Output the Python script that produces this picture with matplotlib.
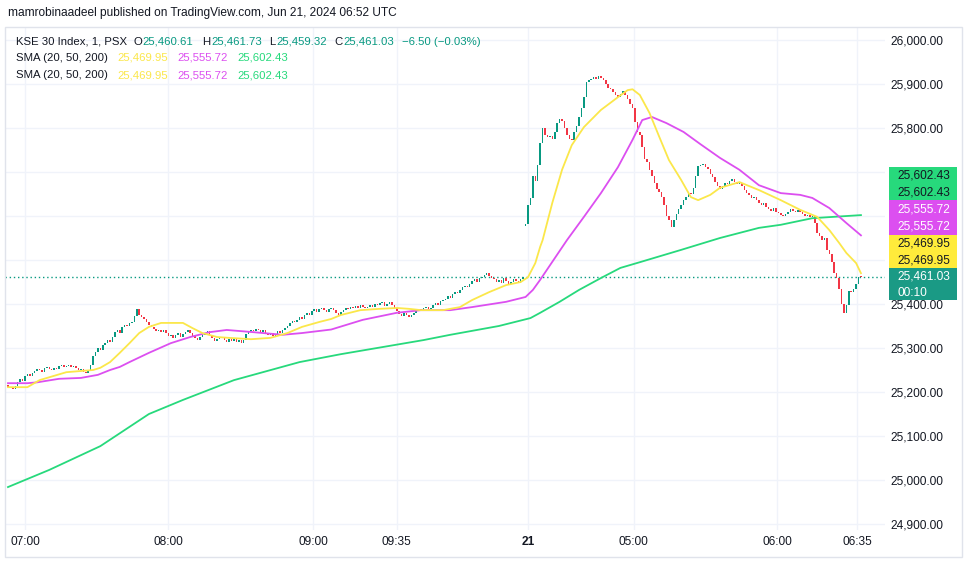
import numpy as np
import matplotlib.pyplot as plt
from matplotlib.patches import Rectangle

plt.rcParams['font.family'] = ['Liberation Sans', 'DejaVu Sans']

# 1-minute closes (Jun 20 session, then Jun 21)
jun20_open = 25216
jun20_close = [
    25212, 25208, 25206, 25214, 25222, 25230, 25226, 25236, 25240, 25236, 25244, 25248,
    25252, 25250, 25246, 25254, 25256, 25252, 25250, 25255, 25252, 25258, 25262, 25256,
    25258, 25262, 25256, 25260, 25254, 25250, 25252, 25246, 25244, 25250, 25262, 25282,
    25290, 25300, 25296, 25306, 25312, 25318, 25314, 25326, 25336, 25340, 25334, 25348,
    25352, 25350, 25356, 25360, 25372, 25388, 25376, 25370, 25366, 25358, 25352, 25348,
    25344, 25338, 25342, 25336, 25340, 25334, 25328, 25330, 25322, 25330, 25334, 25326,
    25332, 25336, 25340, 25334, 25328, 25322, 25318, 25324, 25330, 25334, 25338, 25330,
    25322, 25316, 25320, 25326, 25322, 25318, 25314, 25320, 25316, 25320, 25314, 25318,
    25312, 25318, 25332, 25338, 25342, 25338, 25344, 25340, 25336, 25340, 25334, 25330,
    25334, 25328, 25332, 25338, 25334, 25340, 25346, 25350, 25356, 25362, 25358, 25364,
    25370, 25366, 25374, 25380, 25376, 25384, 25388, 25382, 25388, 25392, 25386, 25382,
    25388, 25392, 25386, 25380, 25376, 25382, 25386, 25390, 25388, 25394, 25390, 25396,
    25392, 25398, 25394, 25390, 25394, 25398, 25394, 25400, 25398, 25402, 25404, 25396,
    25400, 25404, 25398, 25390, 25384, 25378, 25372, 25380, 25376, 25370, 25374, 25380,
    25384, 25388, 25384, 25390, 25394, 25388, 25392, 25398, 25402, 25398, 25406, 25410,
    25412, 25418, 25414, 25422, 25428, 25424, 25432, 25438, 25442, 25438, 25446, 25452,
    25456, 25450, 25458, 25462, 25466, 25470, 25464, 25460, 25456, 25450, 25454, 25448,
    25458, 25452, 25446, 25450, 25456, 25452, 25448, 25456, 25462,
]
jun21_open = 25578
jun21_close = [
    25582, 25625, 25640, 25690, 25680, 25716, 25765, 25800, 25785, 25780,
    25782, 25776, 25790, 25812, 25820, 25815, 25800, 25785, 25775, 25772,
    25790, 25805, 25825, 25845, 25870, 25905, 25910, 25912, 25916, 25912,
    25918, 25914, 25908, 25900, 25892, 25888, 25882, 25874, 25870, 25878,
    25885, 25876, 25866, 25855, 25845, 25814, 25791, 25784, 25757, 25730,
    25723, 25705, 25690, 25675, 25662, 25655, 25643, 25625, 25600, 25592,
    25575, 25590, 25605, 25616, 25626, 25636, 25644, 25652, 25650, 25664,
    25690, 25714, 25716, 25718, 25712, 25706, 25696, 25688, 25678, 25668,
    25662, 25668, 25676, 25672, 25680, 25684, 25678, 25672, 25676, 25668,
    25660, 25652, 25648, 25640, 25644, 25636, 25630, 25626, 25630, 25620,
    25616, 25612, 25618, 25610, 25606, 25602, 25600, 25604, 25608, 25615,
    25612, 25610, 25614, 25608, 25604, 25600, 25602, 25598, 25600, 25585,
    25562, 25555, 25545, 25550, 25522, 25513, 25495, 25470, 25458, 25435,
    25400, 25380, 25398, 25430, 25428, 25435, 25445, 25462, 25461.03,
]

# moving averages, sampled at bar index
sma20_idx = [0, 8, 13, 24, 35, 38, 42, 46, 50, 54, 58, 63, 68, 72, 76, 80, 86, 91, 100, 108,
             115, 121, 128, 133, 137, 145, 153, 160, 165, 170, 179, 186, 191, 198, 205, 211,
             214, 217, 219, 220, 224, 228, 232, 237, 244, 251, 255, 257, 260, 264, 268, 272,
             277, 281, 284, 289, 293, 301, 309, 318, 326, 333, 338, 342, 345, 349, 351]
sma20_val = [25211, 25211, 25227, 25245, 25250, 25255, 25268, 25289, 25311, 25334, 25348, 25357,
             25357, 25357, 25345, 25334, 25325, 25323, 25320, 25323, 25334, 25348, 25359, 25366,
             25375, 25386, 25389, 25391, 25389, 25386, 25386, 25393, 25409, 25427, 25443, 25450,
             25461, 25493, 25530, 25545, 25630, 25705, 25761, 25802, 25841, 25870, 25886, 25888,
             25875, 25834, 25780, 25727, 25682, 25643, 25636, 25648, 25664, 25677, 25659, 25636,
             25614, 25598, 25568, 25539, 25516, 25493, 25470]
sma50_idx = [0, 8, 12, 21, 30, 37, 42, 46, 50, 58, 67, 75, 83, 90, 101, 113, 121, 133, 146, 160,
             170, 182, 191, 205, 213, 216, 219, 230, 237, 244, 251, 257, 261, 265, 271, 278,
             285, 293, 301, 309, 318, 326, 331, 338, 345, 351]
sma50_val = [25220, 25220, 25222, 25230, 25232, 25239, 25250, 25257, 25268, 25289, 25311, 25325,
             25336, 25341, 25336, 25330, 25334, 25342, 25364, 25380, 25386, 25386, 25393, 25405,
             25416, 25432, 25455, 25545, 25598, 25652, 25711, 25773, 25818, 25825, 25811, 25791,
             25763, 25732, 25705, 25670, 25652, 25648, 25641, 25618, 25584, 25556]
sma200_idx = [0, 17, 38, 58, 72, 93, 120, 137, 171, 182, 202, 215, 219, 227, 235, 244, 252, 260,
              277, 293, 309, 318, 331, 351]
sma200_val = [24984, 25023, 25077, 25150, 25182, 25227, 25268, 25286, 25318, 25330, 25350, 25368,
              25380, 25405, 25432, 25459, 25482, 25495, 25523, 25550, 25573, 25580, 25595, 25602]

time_pos = [7, 66, 125.5, 160, 214, 257.5, 316.5, 349.5]
time_labels = ['07:00', '08:00', '09:00', '09:35', '21', '05:00', '06:00', '06:35']
price_ticks = list(range(24900, 26001, 100))
hidden_ticks = [25500, 25600, 25700]   # covered by the value labels on the scale

UP, DOWN = '#089981', '#f23645'
YEL, MAG, GRN = '#fbe74a', '#dc4ff0', '#27d97c'
DARK = '#131722'
W, H = 965, 564

closes = np.array(jun20_close + jun21_close, dtype=float)
opens = np.concatenate([[jun20_open], closes[:-1]])
opens[len(jun20_close)] = jun21_open
idx = np.arange(len(closes))
up = closes >= opens

fig = plt.figure(figsize=(W / 100, H / 100), dpi=100)
ax = fig.add_axes([5 / W, 1 - 530 / H, 880 / W, 503 / H])

# grid
for p in price_ticks:
    ax.axhline(p, color='#f0f3fa', lw=1, zorder=0)
for t in time_pos:
    ax.axvline(t, color='#f0f3fa', lw=1, zorder=0)

# candles (min body height ~1px)
ax.bar(idx, np.maximum(np.abs(closes - opens), 2.4), bottom=np.minimum(opens, closes),
       width=0.62, color=np.where(up, UP, DOWN), linewidth=0, zorder=2)

ax.plot(sma200_idx, sma200_val, color=GRN, lw=1.3, zorder=3)
ax.plot(sma50_idx, sma50_val, color=MAG, lw=1.3, zorder=3)
ax.plot(sma20_idx, sma20_val, color=YEL, lw=1.3, zorder=3)

ax.axhline(closes[-1], color=UP, lw=1, ls=(0, (1, 2)), zorder=1)

ax.set_xlim(-1.23, 360.9)
ax.set_ylim(24886.4, 26029.5)
for s in ax.spines.values():
    s.set_visible(False)
ax.yaxis.tick_right()
ax.set_yticks(price_ticks)
ax.set_yticklabels(['' if p in hidden_ticks else f'{p:,.2f}' for p in price_ticks])
ax.set_xticks(time_pos)
ax.set_xticklabels(time_labels)
ax.tick_params(length=0, labelsize=8.6, colors=DARK, pad=4)
ax.get_xticklabels()[4].set_fontweight('bold')


def ftext(x, y, s, color=DARK, size=8.2, **kw):
    fig.text(x / W, 1 - y / H, s, color=color, va='center', fontsize=size, **kw)


# outer frame
fig.patches.append(Rectangle((5 / W, 1 - 557 / H), 957 / W, 530 / H, transform=fig.transFigure,
                             fill=False, edgecolor='#e0e3eb', lw=1))

ftext(8, 13, 'mamrobinaadeel published on TradingView.com, Jun 21, 2024 06:52 UTC', size=8.6)

ftext(16, 42, 'KSE 30 Index, 1, PSX')
for x, s, c in [(133, 'O', DARK), (142, '25,460.61', UP), (202, 'H', DARK), (211, '25,461.73', UP),
                (269, 'L', DARK), (276, '25,459.32', UP), (334, 'C', DARK), (343, '25,461.03', UP),
                (402, '\u22126.50 (\u22120.03%)', UP)]:
    ftext(x, 42, s, c)
for y in (58, 75):
    ftext(16, y, 'SMA (20, 50, 200)')
    ftext(117, y, '25,469.95', YEL)
    ftext(177, y, '25,555.72', MAG)
    ftext(237, y, '25,602.43', GRN)

# price labels on the scale
boxes = [(167, 200, GRN, DARK, ['25,602.43', '25,602.43']),
         (200, 235, MAG, 'white', ['25,555.72', '25,555.72']),
         (235, 268, '#ffeb3b', DARK, ['25,469.95', '25,469.95']),
         (268, 300, '#1a9a85', 'white', ['25,461.03', '00:10'])]
for top, bot, fc, tc, lines in boxes:
    fig.patches.append(Rectangle((889 / W, 1 - bot / H), 68 / W, (bot - top) / H,
                                 transform=fig.transFigure, facecolor=fc, edgecolor='none', zorder=5))
    h = (bot - top) / 2
    for k, s in enumerate(lines):
        ftext(897, top + h * (k + 0.5) + 0.5, s, tc, size=8.6, zorder=6)

fig.savefig('out.png', dpi=100)
